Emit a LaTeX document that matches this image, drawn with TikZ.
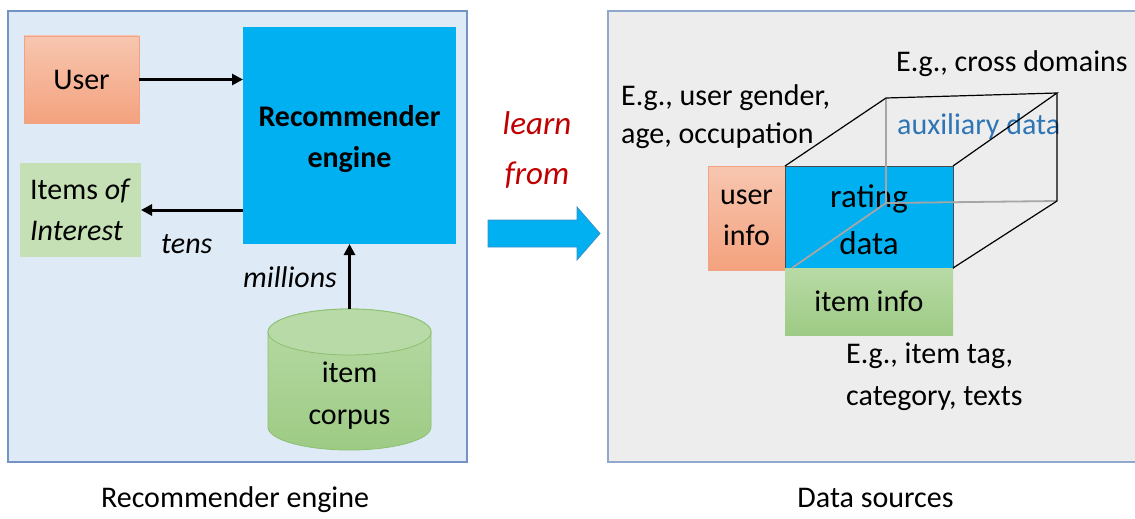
\documentclass[tikz,border=0pt]{standalone}
\usepackage{fontspec}
\setmainfont{Carlito}
\usetikzlibrary{arrows.meta,calc}

\definecolor{panelblue}{HTML}{DEEBF7}
\definecolor{panelblueedge}{HTML}{7393C4}
\definecolor{panelgray}{HTML}{EDEDED}
\definecolor{panelgrayedge}{HTML}{8FA8CC}
\definecolor{engineblue}{HTML}{00B0F0}
\definecolor{salmontop}{HTML}{F7C6B0}
\definecolor{salmonbot}{HTML}{F4A27E}
\definecolor{salmonedge}{HTML}{F0A282}
\definecolor{greenflat}{HTML}{C5E0B4}
\definecolor{greentop}{HTML}{B8DAA6}
\definecolor{greenbot}{HTML}{9DCB84}
\definecolor{greenedge}{HTML}{8CBF70}
\definecolor{arrowedge}{HTML}{3D8FC8}
\definecolor{learnred}{HTML}{C00000}
\definecolor{auxblue}{HTML}{2E75B6}
\definecolor{edgegray}{HTML}{A6A6A6}

\tikzset{
  txt/.style={font=\fontsize{30}{41}\selectfont, inner sep=0pt},
  box/.style={inner sep=0pt, outer sep=0pt},
  salmonbox/.style={box, top color=salmontop, bottom color=salmonbot, draw=salmonedge, line width=0.8pt},
  greenbox/.style={box, top color=greentop, bottom color=greenbot},
  flow/.style={line width=3pt, -{Triangle[length=11pt,width=11pt]}},
  cubeline/.style={line width=1.2pt, black},
  hiddenline/.style={line width=1.8pt, edgegray},
}

\begin{document}
\begin{tikzpicture}[x=1pt, y=-1pt]
\useasboundingbox[fill=white] (0,0) rectangle (1135,519);

% ---------- left panel: recommender engine ----------
\draw[fill=panelblue, draw=panelblueedge, line width=1.5pt] (8,11) rectangle (467,462);

\node[salmonbox, txt, minimum width=115pt, minimum height=87pt] (user) at (81.5,79.5) {User};
\node[box, fill=engineblue, minimum width=213pt, minimum height=217pt] (engine) at (349.5,135.5) {};
\node[txt, font=\fontsize{30}{41}\selectfont\bfseries, align=center] (enginelabel) at (349.5,139.5) {Recommender\\engine};
\node[box, fill=greenflat, txt, align=left, minimum width=121pt, minimum height=94pt] (items) at (80.5,210) {Items \textit{of}\\\textit{Interest}};

% item corpus cylinder
\shade[top color=greentop, bottom color=greenbot, draw=greenedge, line width=0.8pt]
  (268,332) -- (268,427) arc[start angle=180, end angle=0, x radius=81.5, y radius=23]
  -- (431,332) arc[start angle=0, end angle=-180, x radius=81.5, y radius=23] -- cycle;
\draw[fill=greentop, draw=greenedge, line width=0.8pt] (349.5,332) ellipse[x radius=81.5, y radius=23];
\node[box, minimum width=163pt, minimum height=141pt] (corpus) at (349.5,379.5) {};
\node[txt, align=center, font=\fontsize{30}{42}\selectfont] (corpuslabel) at (349.5,396) {item\\corpus};

\draw[flow] (user.east) -- (user.east -| engine.west);
\draw[flow] (engine.west |- items.east) -- (items.east);
\draw[flow] (corpus.north) -- (engine.south);

\node[txt, anchor=base west] (tens) at (161,253) {\itshape tens};
\node[txt, anchor=base west] (millions) at (243,287) {\itshape millions};

\node[txt, anchor=base] (leftcaption) at (235,507) {Recommender engine};

% ---------- middle: learn from ----------
\node[txt, align=center, text=learnred, font=\fontsize{33}{50}\selectfont\itshape] (learn) at (537,150) {learn\\from};
\draw[fill=engineblue, draw=arrowedge, line width=0.8pt]
  (488,220) -- (577,220) -- (577,207) -- (600,233.5) -- (577,260) -- (577,247) -- (488,247) -- cycle;

% ---------- right panel: data sources ----------
\draw[fill=panelgray, draw=panelgrayedge, line width=1.5pt] (608,11) rectangle (1160,462);

\node[salmonbox, txt, align=center, minimum width=77pt, minimum height=104pt] (userinfo) at (746.5,218) {user\\info};
\node[box, fill=engineblue, draw=black!70, line width=0.8pt, minimum width=168pt, minimum height=102pt] (rating) at (869,217) {};
\node[txt, align=center, font=\fontsize{33}{47}\selectfont] (ratinglabel) at (869,219.5) {rating\\data};
\node[greenbox, txt, minimum width=168pt, minimum height=67pt] (iteminfo) at (869,301.5) {item info};

\node[txt, anchor=base west] (crossdom) at (896,72) {E.g., cross domains};
\node[txt, anchor=base west, text=auxblue] (aux) at (897,134) {auxiliary data};
\node[txt, anchor=west, align=left, font=\fontsize{30}{38}\selectfont] (userattr) at (621,117) {E.g., user gender,\\age, occupation};
\node[txt, anchor=west, align=left, font=\fontsize{30}{42}\selectfont] (itemattr) at (846,377) {E.g., item tag,\\category, texts};

% cube of auxiliary data behind the rating matrix
\coordinate (b1) at (886,98);
\coordinate (b2) at (1057,93);
\coordinate (b3) at (1057,201);
\coordinate (b4) at (886,203);
\draw[hiddenline] (b1) -- (b4) -- (b3);
\draw[hiddenline] (b4) -- ($(rating.south west)+(7,0)$);
\draw[cubeline] (rating.north west) -- (b1) -- (b2) -- (rating.north east);
\draw[cubeline] (b2) -- (b3) -- (rating.south east);

\node[txt, anchor=base] (rightcaption) at (875.5,507) {Data sources};
\end{tikzpicture}
\end{document}
